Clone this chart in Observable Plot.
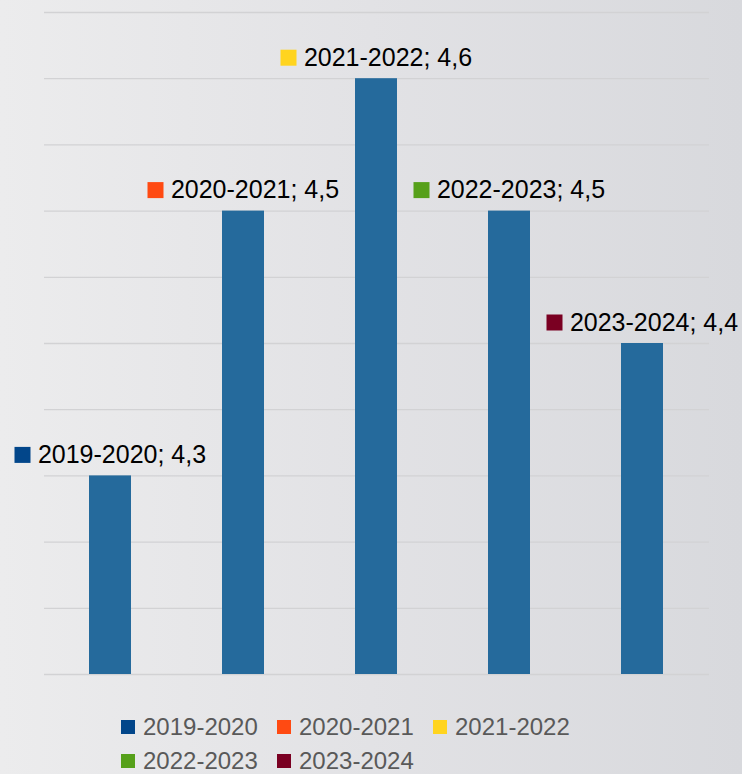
<!DOCTYPE html>
<html>
<head>
<meta charset="utf-8">
<script src="https://cdn.jsdelivr.net/npm/d3@7"></script>
<script src="https://cdn.jsdelivr.net/npm/@observablehq/plot@0.6"></script>
<style>
  html, body { margin: 0; padding: 0; }
  body {
    width: 742px; height: 774px; overflow: hidden;
    background: linear-gradient(to right, #ececed 0%, #e2e2e5 50%, #d8d9dd 100%);
    font-family: "Liberation Sans", Arial, sans-serif;
  }
  #legend {
    display: flex; flex-wrap: wrap;
    margin-left: 121px; width: 470px;
    padding-top: 10px;
  }
  .item { width: 156px; height: 34px; display: flex; align-items: center; }
  .sw { width: 14px; height: 14px; margin-right: 8px; flex: none; }
  .lab { font-size: 24px; color: #595959; line-height: 1; }
</style>
</head>
<body>
<div id="chart"></div>
<div id="legend"></div>
<script>
const seasons = ["2019-2020", "2020-2021", "2021-2022", "2022-2023", "2023-2024"];
const values = [4.3, 4.5, 4.6, 4.5, 4.4];
const valueLabels = ["4,3", "4,5", "4,6", "4,5", "4,4"];
const legendColors = ["#02468a", "#ff4a12", "#ffd41f", "#56a01a", "#7a0022"];
const gridTicks = [4.15, 4.2, 4.25, 4.3, 4.35, 4.4, 4.45, 4.5, 4.55, 4.6, 4.65];

const data = seasons.map((s, i) => ({
  season: s, value: values[i], label: `${s}; ${valueLabels[i]}`, color: legendColors[i]
}));

const chart = Plot.plot({
  width: 742,
  height: 700,
  marginTop: 12,
  marginBottom: 26,
  marginLeft: 44,
  marginRight: 33,
  style: { background: "transparent", fontFamily: "'Liberation Sans', Arial, sans-serif", overflow: "visible" },
  x: { type: "band", domain: seasons, paddingInner: 0.684, paddingOuter: 0.342, axis: null },
  y: { domain: [4.15, 4.65], axis: null },
  marks: [
    Plot.ruleY(gridTicks, { stroke: "#d2d2d4", strokeWidth: 1.3, dx: 0 }),
    Plot.barY(data, { x: "season", y1: 4.15, y2: "value", fill: "#256a9c" }),
    Plot.text(data, {
      x: "season", y: "value", text: "label",
      lineAnchor: "bottom", dy: -13, dx: 11.5,
      fontSize: 25, fill: "#000"
    }),
    Plot.dot(data, {
      x: "season", y: "value", symbol: "square", r: 9.03,
      fill: "color", stroke: "none", dy: -21, dx: -88
    })
  ]
});
document.getElementById("chart").appendChild(chart);

const legend = document.getElementById("legend");
seasons.forEach((s, i) => {
  const it = document.createElement("div");
  it.className = "item";
  it.innerHTML = `<span class="sw" style="background:${legendColors[i]}"></span><span class="lab">${s}</span>`;
  legend.appendChild(it);
});
</script>
</body>
</html>
